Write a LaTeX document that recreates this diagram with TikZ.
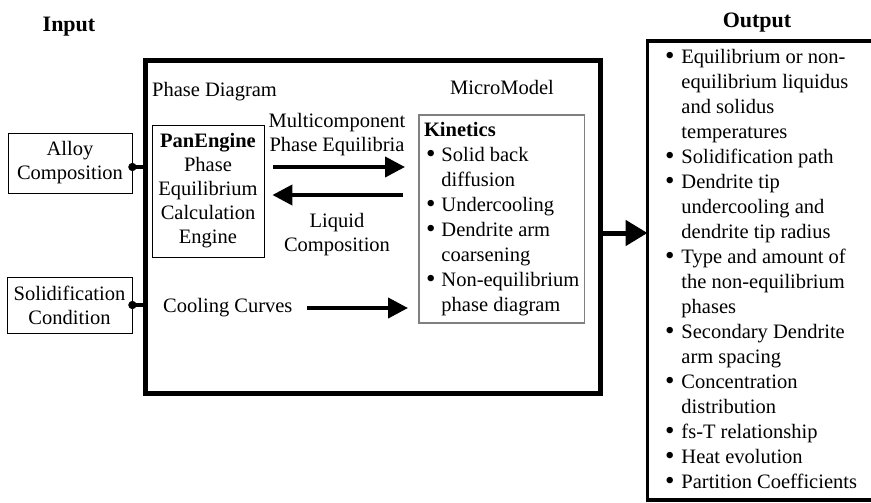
\documentclass[tikz,border=0pt]{standalone}
\usepackage{fontspec}
\setmainfont{Liberation Serif}
\usetikzlibrary{arrows.meta}

\newcommand{\bul}{\raisebox{-1pt}{\fontsize{27}{25}\selectfont\textbullet}}

\tikzset{
  inbox/.style={draw, line width=0.8pt, align=center, inner sep=0pt},
  mainbox/.style={draw, line width=5pt},
  microbox/.style={draw=gray, line width=1.2pt, inner xsep=5pt, inner ysep=0pt,
    outer sep=0pt, anchor=north west, bullets},
  outbox/.style={draw, line width=3.5pt, inner xsep=17.5pt, inner ysep=0pt,
    outer sep=0pt, anchor=north west, bullets},
  bullets/.style={font=\fontsize{20.5}{25}\selectfont},
  heading/.style={font=\fontsize{22}{26}\selectfont\bfseries, anchor=base},
  label/.style={inner sep=0pt, align=center},
  flow/.style={line width=4pt, -{Triangle[length=20pt,width=20pt]}},
  bigflow/.style={line width=5pt, -{Triangle[length=22pt,width=25pt]}},
  link/.style={line width=4pt, {Circle[length=8pt,width=8pt]}-, shorten <=-4pt},
}

\begin{document}
\begin{tikzpicture}[x=1pt, y=-1pt, font=\fontsize{20.5}{24}\selectfont]
\useasboundingbox (0,0) rectangle (871,503);
% 标题
\node[heading] (input) at (69,32) {Input};
\node[heading] (output) at (757,28) {Output};
% 输入
\node[inbox, minimum width=124pt, minimum height=60pt] (alloy) at (70,163) {Alloy\\Composition};
\node[inbox, minimum width=125pt, minimum height=56pt] (solid) at (69.5,305) {Solidification\\Condition};
% 主框
\node[mainbox, minimum width=455pt, minimum height=333pt] (main) at (373,227) {};
\node[label, anchor=base west] (pd) at (152,96) {Phase Diagram};
\node[label, anchor=base] (mm) at (502,95) {MicroModel};
% PanEngine
\node[inbox, minimum width=112pt, minimum height=132pt] (pan) at (208,191)
  {\textbf{PanEngine}\\Phase\\Equilibrium\\Calculation\\Engine};
% MicroModel
\node[microbox, minimum height=208pt] (micro) at (419,115) {%
\begin{tabular}{@{}l@{\hspace{6pt}}l@{}}
\multicolumn{2}{@{}l@{}}{\textbf{Kinetics}}\\
\hspace*{2pt}\bul & Solid back\\
 & diffusion\\
\hspace*{2pt}\bul & Undercooling\\
\hspace*{2pt}\bul & Dendrite arm\\
 & coarsening\\
\hspace*{2pt}\bul & Non-equilibrium\\
 & phase diagram
\end{tabular}};
% 中间的标注
\node[label] (mpe) at (337,135) {Multicomponent\\Phase Equilibria};
\node[label] (lc) at (337,235) {Liquid\\Composition};
\node[label, anchor=west] (cool) at (163,308) {Cooling Curves};
% 输出
\node[outbox, minimum height=459pt] (out) at (647.5,41) {%
\begin{tabular}{@{}l@{\hspace{7pt}}l@{}}
\bul & Equilibrium or non-\\
 & equilibrium liquidus\\
 & and solidus\\
 & temperatures\\
\bul & Solidification path\\
\bul & Dendrite tip\\
 & undercooling and\\
 & dendrite tip radius\\
\bul & Type and amount of\\
 & the non-equilibrium\\
 & phases\\
\bul & Secondary Dendrite\\
 & arm spacing\\
\bul & Concentration\\
 & distribution\\
\bul & fs-T relationship\\
\bul & Heat evolution\\
\bul & Partition Coefficients
\end{tabular}};
% 连线
\draw[link] ([yshift=-4pt]alloy.east) -- ([yshift=-4pt]alloy.east -| main.west);
\draw[link] (solid.east) -- (solid.east -| main.west);
% 箭头
\draw[flow, shorten <=9pt, shorten >=14pt] ([yshift=24pt]pan.east) -- ([yshift=24pt]pan.east -| micro.west);
\draw[flow, shorten <=16pt, shorten >=8pt] ([yshift=-4pt]pan.east -| micro.west) -- ([yshift=-4pt]pan.east);
\draw[flow, shorten <=14pt, shorten >=11pt] (cool.east) -- (cool.east -| micro.west);
\draw[bigflow] ([yshift=-6pt]main.east) -- ([yshift=-6pt]main.east -| out.west);
\end{tikzpicture}
\end{document}
